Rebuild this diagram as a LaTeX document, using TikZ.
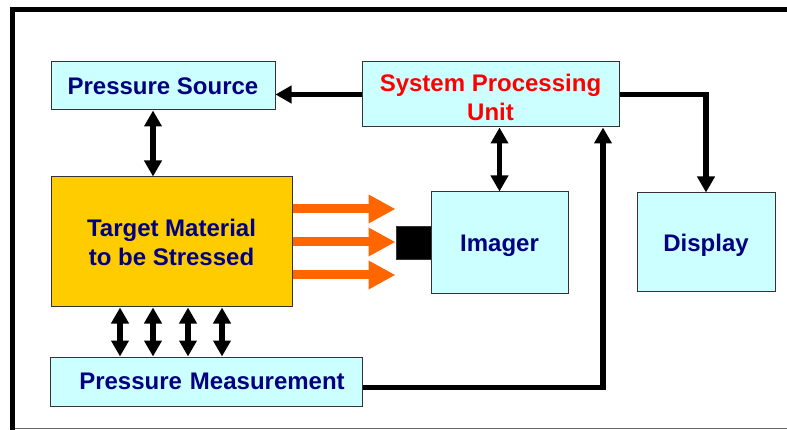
\documentclass[tikz,border=0pt]{standalone}
\usepackage{fontspec}
\setmainfont{Liberation Sans}
\usetikzlibrary{arrows.meta,calc}
\definecolor{boxfill}{HTML}{CCFFFF}
\definecolor{gold}{HTML}{FFCC00}
\definecolor{navy}{HTML}{000080}
\definecolor{flame}{HTML}{FF6600}
\definecolor{edge}{HTML}{333333}
\begin{document}
\begin{tikzpicture}[x=1pt,y=-1pt,
  box/.style={draw=edge, line width=1pt, fill=boxfill, inner sep=0pt, align=center,
    text=navy, font=\bfseries\fontsize{24}{29}\selectfont},
  blk/.style={line width=5.5pt, -{Triangle[length=16pt,width=17pt]}},
  dbl/.style={line width=5.5pt, {Triangle[length=16pt,width=17pt]}-{Triangle[length=16pt,width=17pt]}},
  ray/.style={flame, line width=9pt, -{Triangle[length=27pt,width=27pt]}},
]
\useasboundingbox (0,0) rectangle (787,430);
% outer frame
\draw[line width=5pt] (12.5,430) -- (12.5,9.5) -- (787,9.5);
\draw[line width=1.2pt, black!60] (15,428.6) -- (787,428.6);

% blocks
\node[box, minimum width=224pt, minimum height=48pt] (ps) at (163,86) {Pressure Source};
\node[box, minimum width=257pt, minimum height=65pt, text=red] (spu) at (490.5,94.5) {\rule{0pt}{23pt}System Processing\\Unit};
\node[box, fill=gold, minimum width=241pt, minimum height=130pt] (tm) at (171.5,242) {Target Material\\to be Stressed};
\node[box, minimum width=137pt, minimum height=102pt, text depth=0pt] (img) at (499.5,243) {Imager};
\node[box, minimum width=138pt, minimum height=99pt, text depth=0pt] (disp) at (706,242.5) {Display};
\node[box, minimum width=312pt, minimum height=49pt, text width=312pt] (pm) at (206,381.5) {\hspace*{12pt}Pressure Measurement};
\node[draw=edge, line width=0.6pt, fill=black, minimum width=35pt, minimum height=33pt, inner sep=0pt] (cam) at (413.5,242.5) {};

% connectors
\draw[blk] (spu.west) -- (spu.west -| ps.east);
\draw[blk] (spu.east) -| (disp.north);
\draw[dbl] (153,0 |- ps.south) -- (153,0 |- tm.north);
\draw[dbl] (img.north |- spu.south) -- (img.north);
\coordinate (spuin) at ([xshift=112.5pt]spu.south);
\draw[blk] ([yshift=-6pt]pm.east) -| (spuin);
\foreach \x in {120,153,188,222}
  \draw[dbl] (\x,0 |- tm.south) -- (\x,0 |- pm.north);

% radiation from the target toward the imager
\foreach \dy in {-33,0,33}
  \draw[ray] ([yshift=-\dy pt]tm.east) -- ++(103,0);
\end{tikzpicture}
\end{document}
